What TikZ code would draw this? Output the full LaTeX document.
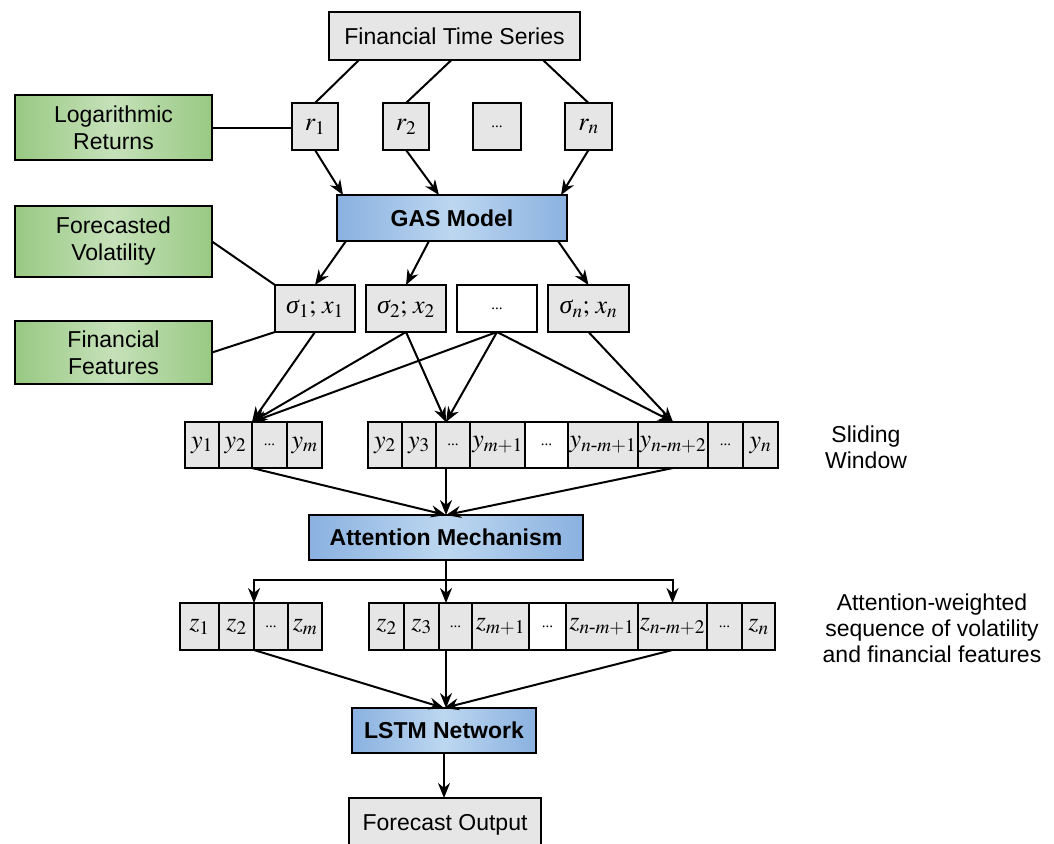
\documentclass[tikz,border=0pt]{standalone}
\usepackage{amsmath}
\usepackage{mathptmx}
\usepackage[no-math]{fontspec}
\setmainfont{Liberation Sans}
\newfontfamily\tms{Liberation Serif}
\usetikzlibrary{arrows.meta,calc}
\definecolor{boxgray}{HTML}{E6E6E6}
\definecolor{gEdge}{HTML}{98C982}
\definecolor{gMid}{HTML}{C6E1BA}
\definecolor{bEdge}{HTML}{8AB1E0}
\definecolor{bMid}{HTML}{BDD7F0}
\newcommand\dd{{\tms\fontsize{15}{15}\selectfont...}}
\newcommand\hy{\text{\tms\itshape -}}
\newcommand\sig{\text{\tms\itshape σ}}
\newcommand\bx[7][]{\node[#1,minimum width={(#4-#3)*1pt},minimum height={(#6-#5)*1pt}] (#2) at ({(#3+#4)/2},{(#5+#6)/2}) {#7};}
\tikzset{
  base/.style={draw, line width=2pt, inner sep=0pt, outer sep=0pt},
  gbox/.style={base, fill=boxgray, font=\fontsize{23}{26}\selectfont},
  mbox/.style={base, fill=boxgray, font=\fontsize{26}{30}\selectfont},
  wbox/.style={base, fill=white, font=\fontsize{26}{30}\selectfont},
  green/.style={base, left color=gEdge, right color=gEdge, middle color=gMid, align=center, font=\fontsize{23}{27}\selectfont},
  blue/.style={base, left color=bEdge, right color=bEdge, middle color=bMid, font=\bfseries\fontsize{23}{26}\selectfont},
  conn/.style={line width=2pt},
  arr/.style={line width=2pt, -{Stealth[length=15pt,width=12pt]}},
  lbl/.style={align=center, inner sep=0pt, font=\fontsize{23}{26}\selectfont}
}
\begin{document}
\begin{tikzpicture}[x=1pt,y=-1pt]
\clip (0,0) rectangle (1054,843);
% top
\bx[gbox]{fts}{329}{580}{12}{60}{Financial Time Series}
\bx[green]{lr}{15}{212}{95}{160}{Logarithmic\\Returns}
\bx[mbox]{r1}{292}{338}{103}{150}{$r_1$}
\bx[mbox]{r2}{383}{429}{103}{150}{$r_2$}
\bx[mbox]{rd}{473}{521}{103}{150}{\dd}
\bx[mbox]{rn}{565}{612}{103}{150}{$r_n$}
\bx[blue]{gas}{337}{567}{195}{241}{GAS Model}
\bx[green]{fv}{15}{212}{206}{277}{Forecasted\\Volatility}
\bx[green]{ff}{15}{212}{321}{384}{Financial\\Features}
\bx[mbox]{s1}{275}{355}{285}{332}{$\sig_1;\,x_1$}
\bx[mbox]{s2}{366}{446}{285}{332}{$\sig_2;\,x_2$}
\bx[wbox]{sd}{457}{537}{285}{332}{\dd}
\bx[mbox]{sn}{548}{629}{285}{332}{$\sig_n;\,x_n$}
% y row
\bx[mbox]{ya1}{185}{219}{422}{468}{$y_1$}
\bx[mbox]{ya2}{219}{252}{422}{468}{$y_2$}
\bx[mbox]{ya3}{252}{287}{422}{468}{\dd}
\bx[mbox]{ya4}{287}{322}{422}{468}{$y_m$}
\bx[mbox]{yb1}{368}{402}{422}{468}{$y_2$}
\bx[mbox]{yb2}{402}{436}{422}{468}{$y_3$}
\bx[mbox]{yb3}{436}{470}{422}{468}{\dd}
\bx[mbox]{yb4}{470}{525}{422}{468}{$y_{m+1}$}
\bx[wbox]{yb5}{525}{568}{422}{468}{\dd}
\bx[mbox]{yb6}{568}{638}{422}{468}{$y_{n\hy m+1}$}
\bx[mbox]{yb7}{638}{708}{422}{468}{$y_{n\hy m+2}$}
\bx[mbox]{yb8}{708}{743}{422}{468}{\dd}
\bx[mbox]{yb9}{743}{778}{422}{468}{$y_n$}
\bx[blue]{att}{309}{583}{515}{560}{Attention Mechanism}
% z row
\bx[mbox]{za1}{180}{219}{603}{650}{$z_1$}
\bx[mbox]{za2}{219}{254}{603}{650}{$z_2$}
\bx[mbox]{za3}{254}{288}{603}{650}{\dd}
\bx[mbox]{za4}{288}{322}{603}{650}{$z_m$}
\bx[mbox]{zb1}{369}{404}{603}{650}{$z_2$}
\bx[mbox]{zb2}{404}{439}{603}{650}{$z_3$}
\bx[mbox]{zb3}{439}{472}{603}{650}{\dd}
\bx[mbox]{zb4}{472}{529}{603}{650}{$z_{m+1}$}
\bx[wbox]{zb5}{529}{566}{603}{650}{\dd}
\bx[mbox]{zb6}{566}{638}{603}{650}{$z_{n\hy m+1}$}
\bx[mbox]{zb7}{638}{707}{603}{650}{$z_{n\hy m+2}$}
\bx[mbox]{zb8}{707}{742}{603}{650}{\dd}
\bx[mbox]{zb9}{742}{775}{603}{650}{$z_n$}
\bx[blue]{lstm}{352}{536}{708}{753}{LSTM Network}
\bx[gbox]{out}{349}{541}{798}{852}{Forecast Output}
% side labels
\node[lbl] (sw) at (866,447) {Sliding\\Window};
\node[lbl] (aw) at (932,628) {Attention-weighted\\sequence of volatility\\and financial features};
% connectors top
\draw[conn] ($(fts.south west)+(30,0)$) -- (r1.north);
\draw[conn] ($(fts.south)+(-3,0)$) -- (r2.north);
\draw[conn] ($(fts.south east)+(-37,0)$) -- (rn.north);
\draw[conn] (lr.east) -- (lr.east -| r1.west);
\draw[arr] (r1.south) -- ($(gas.north west)+(6,0)$);
\draw[arr] (r2.south) -- ($(gas.north)+(-13,0)$);
\draw[arr] (rn.south) -- ($(gas.north east)+(-6,0)$);
\draw[arr] ($(gas.south west)+(9,0)$) -- (s1.north);
\draw[arr] ($(gas.south)+(-23,0)$) -- (s2.north);
\draw[arr] ($(gas.south east)+(-9,0)$) -- (sn.north);
\draw[conn] (fv.east) -- (s1.north west);
\draw[conn] (ff.east) -- (s1.south west);
% sigma -> y
\coordinate (tL) at (ya2.north east);
\coordinate (tM) at (att.north |- yb3.north);
\coordinate (tR) at (yb7.north);
\draw[arr] (s1.south) -- (tL);
\draw[arr] (s2.south) -- (tL);
\draw[arr] (s2.south) -- (tM);
\draw[arr] (sd.south) -- (tL);
\draw[arr] (sd.south) -- (tM);
\draw[arr] (sd.south) -- (tR);
\draw[arr] (sn.south) -- (tR);
% y -> attention
\draw[arr] (ya2.south east) -- (att.north);
\draw[arr] (att.north |- yb3.south) -- (att.north);
\draw[arr] (yb7.south) -- (att.north);
% attention -> z
\coordinate (split) at ($(att.south)+(0,20)$);
\draw[conn] (att.south) -- (split);
\draw[arr] (split) -| (za2.north east);
\draw[arr] (split) -| (zb7.north);
\draw[arr] (split) -- (split |- zb3.north);
% z -> lstm
\draw[arr] (za2.south east) -- (lstm.north);
\draw[arr] (split |- zb3.south) -- (split |- lstm.north);
\draw[arr] (zb7.south) -- (lstm.north);
\draw[arr] (lstm.south) -- (lstm.south |- out.north);
\end{tikzpicture}
\end{document}
